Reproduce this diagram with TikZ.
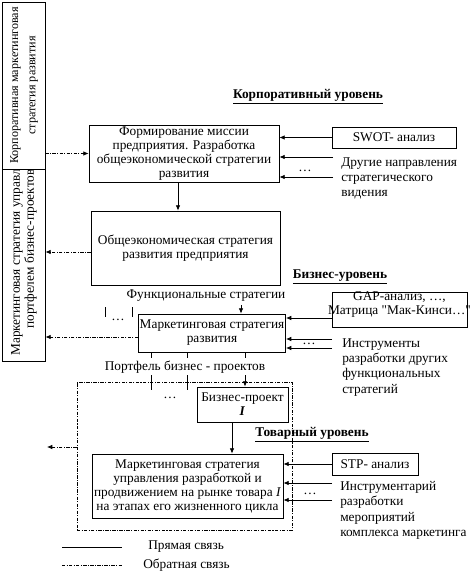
\documentclass[tikz,border=0pt]{standalone}
\usepackage{fontspec}
\setmainfont{Liberation Serif}
\newfontfamily\qfont{Liberation Serif}
\usetikzlibrary{arrows.meta}
\begin{document}
\begin{tikzpicture}[x=0.75pt,y=-0.75pt,
  sz/.style 2 args={minimum width=#1*0.75pt, minimum height=#2*0.75pt},
  box/.style={draw, line width=0.6pt, fill=white, inner sep=1pt, align=center, font=\fontsize{10}{10.5}\selectfont},
  fb/.style={line width=0.6pt, dash pattern=on 2.5pt off 1pt on 0.8pt off 1pt},
  sl/.style={line width=0.6pt},
  arr/.style={-{Latex[length=4pt,width=3.5pt]}},
  lbl/.style={font=\fontsize{10}{11.5}\selectfont, align=left, anchor=north west, inner sep=0pt},
  ttl/.style={font=\bfseries\fontsize{10}{12}\selectfont, inner sep=0pt},
  txt/.style={font=\fontsize{10}{12}\selectfont, inner sep=0pt},
]
\fill[white] (0,0) rectangle (472,571);
\useasboundingbox (0,0) rectangle (472,571);

% left boxes
\node[box, sz={43}{192}] (lb2) at (23.5,265) {};
\node[txt, rotate=90, align=center, font=\fontsize{10}{10.5}\selectfont] (lb2t) at (24,249) {Маркетинговая стратегия управления\\портфелем бизнес-проектов};
\node[box, sz={43}{167}] (lb1) at (23.5,85.5) {};
\node[txt, rotate=90, align=center, font=\fontsize{9.1}{13}\selectfont] (lb1t) at (24,85.5) {Корпоративная маркетинговая\\стратегия развития};

% level titles
\node[ttl] (corp) at (308,97) {\underline{Корпоративный уровень}};
\node[ttl] (bus) at (340,277) {\underline{Бизнес-уровень}};
\node[ttl] (tov) at (312,435) {\underline{Товарный уровень}};

% main boxes
\node[box, sz={190}{57}] (mis) at (184,153.5) {Формирование миссии\\предприятия. Разработка\\общеэкономической стратегии\\развития};
\node[box, sz={124}{21}] (swot) at (394,137.5) {SWOT- анализ};
\node[box, sz={189}{74}] (econ) at (185.5,248) {Общеэкономическая стратегия\\развития предприятия};
\node[box, sz={136}{38}] (mkt) at (212,333) {Маркетинговая стратегия\\развития};
\node[box, sz={135}{35}] (gap) at (399.5,309.5) {};
\node[txt, align=center, font=\fontsize{10}{10.5}\selectfont] (gapt) at (399.5,305) {GAP-анализ, \dots,\\Матрица {\qfont "}Мак-Кинси\dots{\qfont "}};

\node[draw, fb, sz={215}{148}] (frame) at (184.5,456) {};
\node[box, sz={91}{35}] (bp) at (242.5,404.5) {Бизнес-проект\\\textbf{\textit{I}}};
\node[box, sz={191}{64}] (prod) at (187.5,486) {Маркетинговая стратегия\\управления разработкой и\\продвижением на рынке товара \textit{I}\\на этапах его жизненного цикла};
\node[box, sz={86}{22}] (stp) at (375,464) {STP- анализ};

% texts
\node[txt] (func) at (206,296) {Функциональные стратегии};
\node[txt] (port) at (185,367) {Портфель бизнес - проектов};
\node[lbl] (oth1) at (341,157) {Другие направления\\стратегического\\видения};
\node[lbl] (oth2) at (342,338) {Инструменты\\разработки других\\функциональных\\стратегий};
\node[lbl] (oth3) at (340,481) {Инструментарий\\разработки\\мероприятий\\комплекса маркетинга};
\node[txt] (d1) at (305,171) {\dots};
\node[txt] (d2) at (309,344) {\dots};
\node[txt] (d3) at (310,494) {\dots};
\node[txt] (d4) at (118,320) {\dots};
\node[txt] (d5) at (170,398) {\dots};

% corporate level connectors
\draw[fb,arr] (mis.west -| lb1.east) -- (mis.west);
\draw[sl,arr] (mis.south -| 178,0) -- (econ.north -| 178,0);
\draw[sl,arr] (swot.west) -- (swot.west -| mis.east);
\coordinate (o1a) at (333,157);
\coordinate (o1b) at (333,177);
\draw[sl,arr] (o1a) -- (o1a -| mis.east);
\draw[sl,arr] (o1b) -- (o1b -| mis.east);

% business level connectors
\draw[fb,arr] (econ.west |- 0,252) -- (lb2.east |- 0,252);
\draw[fb,arr] (mkt.west |- 0,337) -- (lb2.east |- 0,337);
\coordinate (f1) at (241,305);
\draw[sl,arr] (f1) -- (f1 |- mkt.north);
\draw[sl] (105,307) -- (105,317);
\draw[sl] (132,307) -- (132,317);
\coordinate (g1) at (332,318);
\coordinate (g2) at (332,339);
\coordinate (g3) at (332,348);
\draw[sl,arr] (g1) -- (g1 -| mkt.east);
\draw[sl,arr] (g2) -- (g2 -| mkt.east);
\draw[sl,arr] (g3) -- (g3 -| mkt.east);
\draw[sl] (mkt.south -| 151,0) -- (151,358);
\draw[sl] (mkt.south -| 187,0) -- (187,358);
\draw[sl] (mkt.south -| 245,0) -- (245,358);
\draw[sl] (151,375) -- (151,390);
\draw[sl] (187,375) -- (187,390);
\coordinate (p1) at (245,375);
\draw[sl,arr] (p1) -- (p1 |- bp.north);

% product level connectors
\draw[sl,arr] (bp.south -| 232,0) -- (prod.north -| 232,0);
\coordinate (fl) at (47,447);
\draw[fb,arr] (frame.west |- fl) -- (fl);
\draw[sl,arr] (stp.west) -- (stp.west -| prod.east);
\coordinate (s2) at (332,483);
\coordinate (s3) at (332,500);
\draw[sl,arr] (s2) -- (s2 -| prod.east);
\draw[sl,arr] (s3) -- (s3 -| prod.east);

% legend
\coordinate (l1a) at (62,547);
\coordinate (l1b) at (122,547);
\coordinate (l2a) at (62,565);
\coordinate (l2b) at (122,565);
\draw[sl] (l1a) -- (l1b);
\draw[fb] (l2a) -- (l2b);
\node[txt, anchor=west] (leg1) at (148,547) {Прямая связь};
\node[txt, anchor=west] (leg2) at (143,565) {Обратная связь};
\end{tikzpicture}
\end{document}
